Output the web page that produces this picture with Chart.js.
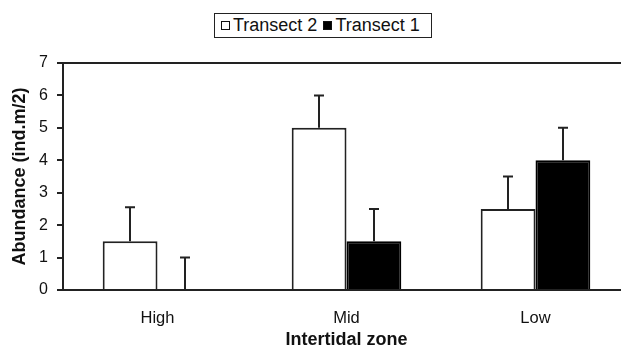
<!DOCTYPE html>
<html>
<head>
<meta charset="utf-8">
<script src="https://cdn.jsdelivr.net/npm/chart.js@4/dist/chart.umd.min.js"></script>
<style>
  html, body { margin: 0; padding: 0; background: #fff; overflow: hidden; }
  #wrap { position: relative; width: 621px; height: 354px; overflow: hidden; }
  #box { position: absolute; left: 0; top: 0; width: 640px; height: 354px; }
  #legend {
    position: absolute; left: 214px; top: 13px; width: 216px; height: 23px;
    border: 1.5px solid #222; background: #fff;
    font-family: "Liberation Sans", Arial, sans-serif; font-size: 18px; color: #111;
    display: flex; align-items: center; white-space: nowrap; box-sizing: content-box;
  }
  #legend .item { display: flex; align-items: center; }
  #legend .sw { width: 7px; height: 7px; border: 1.5px solid #111; margin-right: 3px; }
</style>
</head>
<body>
<div id="wrap">
  <div id="box"><canvas id="c" width="640" height="354"></canvas></div>
  <div id="legend"></div>
</div>
<script>
const categories = ["High", "Mid", "Low"];
const seriesNames = ["Transect 2", "Transect 1"];
const transect2 = [1.5, 5.0, 2.5];
const transect1 = [0, 1.5, 4.0];
const transect2Err = [1.05, 1.0, 1.0];
const transect1Err = [1.0, 1.0, 1.0];
const yTicks = [0, 1, 2, 3, 4, 5, 6, 7];

const FONT = '"Liberation Sans", Arial, sans-serif';
const INK = '#222';

const errorBars = {
  id: 'errorBars',
  afterDatasetsDraw(chart) {
    const ctx = chart.ctx;
    const y = chart.scales.y;
    ctx.save();
    ctx.strokeStyle = INK;
    ctx.lineWidth = 2;
    chart.data.datasets.forEach((ds, di) => {
      const meta = chart.getDatasetMeta(di);
      meta.data.forEach((bar, i) => {
        const top = y.getPixelForValue(ds.data[i] + ds.errors[i]);
        const x = Math.round(bar.x);
        ctx.beginPath();
        ctx.moveTo(x, bar.y);
        ctx.lineTo(x, top);
        ctx.moveTo(x - 5, top);
        ctx.lineTo(x + 5, top);
        ctx.stroke();
      });
    });
    ctx.restore();
  }
};

const frameTop = {
  id: 'frameTop',
  afterDraw(chart) {
    const a = chart.chartArea, ctx = chart.ctx;
    ctx.save();
    ctx.strokeStyle = INK;
    ctx.lineWidth = 2;
    ctx.beginPath();
    ctx.moveTo(a.left, a.top);
    ctx.lineTo(a.right, a.top);
    ctx.lineTo(a.right, a.bottom);
    ctx.stroke();
    ctx.restore();
  }
};

const chart = new Chart(document.getElementById('c'), {
  type: 'bar',
  data: {
    labels: categories,
    datasets: [
      { label: seriesNames[0], data: transect2, errors: transect2Err,
        backgroundColor: '#ffffff', borderColor: INK, borderWidth: 2 },
      { label: seriesNames[1], data: transect1, errors: transect1Err,
        backgroundColor: '#000000', borderColor: '#000', borderWidth: 2 }
    ]
  },
  options: {
    responsive: false,
    animation: false,
    devicePixelRatio: 1,
    layout: { padding: { top: 63, left: 0, right: 10, bottom: 0 } },
    datasets: { bar: { categoryPercentage: 0.58, barPercentage: 1.0 } },
    plugins: { legend: { display: false }, tooltip: { enabled: false } },
    scales: {
      x: {
        grid: { display: false },
        border: { display: true, color: INK, width: 2 },
        ticks: { color: '#111', font: { family: FONT, size: 16.5 }, padding: 11 },
        title: { display: true, text: 'Intertidal zone', color: '#111',
                 font: { family: FONT, size: 18, weight: 'bold' }, padding: { top: 2, bottom: 3 } },
        afterFit(s) { s.height = 64; }
      },
      y: {
        min: 0, max: 7,
        afterBuildTicks(s) { s.ticks = yTicks.map(v => ({ value: v })); },
        grid: { display: true, drawOnChartArea: false, drawTicks: true, tickLength: 6, color: INK, lineWidth: 2 },
        border: { display: true, color: INK, width: 2 },
        ticks: { color: '#111', font: { family: FONT, size: 16 }, padding: 9 },
        title: { display: true, text: 'Abundance (ind.m/2)', color: '#111',
                 font: { family: FONT, size: 18, weight: 'bold' }, padding: 9 },
        afterFit(s) { s.width = 63; }
      }
    }
  },
  plugins: [errorBars, frameTop]
});

// HTML legend built from dataset labels/colours
const leg = document.getElementById('legend');
chart.data.datasets.forEach((ds, i) => {
  const it = document.createElement('span');
  it.className = 'item';
  it.style.marginLeft = '6px';
  const sw = document.createElement('span');
  sw.className = 'sw';
  sw.style.background = ds.backgroundColor;
  const tx = document.createElement('span');
  tx.textContent = ds.label;
  it.appendChild(sw); it.appendChild(tx);
  leg.appendChild(it);
});
</script>
</body>
</html>
